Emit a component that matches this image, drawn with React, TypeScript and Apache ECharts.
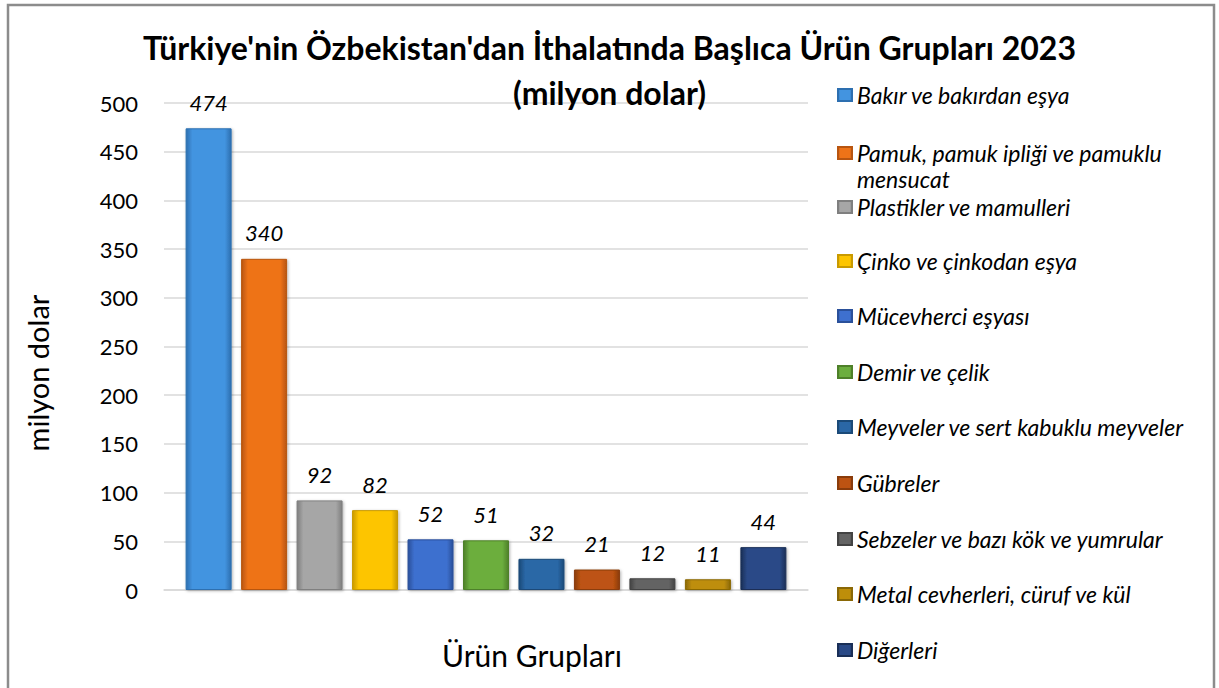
import React, { useEffect, useRef } from 'react';
import * as echarts from 'echarts';

const categories = ['Ürün Grupları'];
const seriesNames = [
  'Bakır ve bakırdan eşya',
  'Pamuk, pamuk ipliği ve pamuklu mensucat',
  'Plastikler ve mamulleri',
  'Çinko ve çinkodan eşya',
  'Mücevherci eşyası',
  'Demir ve çelik',
  'Meyveler ve sert kabuklu meyveler',
  'Gübreler',
  'Sebzeler ve bazı kök ve yumrular',
  'Metal cevherleri, cüruf ve kül',
  'Diğerleri',
];
// legend lines (the second item wraps onto two lines)
const legendLines = [
  ['Bakır ve bakırdan eşya'],
  ['Pamuk, pamuk ipliği ve pamuklu', 'mensucat'],
  ['Plastikler ve mamulleri'],
  ['Çinko ve çinkodan eşya'],
  ['Mücevherci eşyası'],
  ['Demir ve çelik'],
  ['Meyveler ve sert kabuklu meyveler'],
  ['Gübreler'],
  ['Sebzeler ve bazı kök ve yumrular'],
  ['Metal cevherleri, cüruf ve kül'],
  ['Diğerleri'],
];
const values = [474, 340, 92, 82, 52, 51, 32, 21, 12, 11, 44];
const mainColors = ['#4394E0', '#EE7318', '#A6A6A6', '#FDC500', '#3E70CF', '#6CAE3E', '#2A67A6', '#BD5312', '#646464', '#BE8E0A', '#2A4A87'];
const edgeColors = ['#2D6FB0', '#B85510', '#7F7F7F', '#C99A00', '#2A509A', '#4E8029', '#1B4A78', '#8A3C0B', '#434343', '#8A6806', '#1A2F57'];
const yMin = 0;
const yMax = 500;
const yInterval = 50;
const legendCenters = [95, 153, 207, 261, 316, 372, 427, 483, 539, 594, 650];

const FONT = 'Lato';

export default function App() {
  const ref = useRef<HTMLDivElement>(null);
  useEffect(() => {
    if (!ref.current) return;
    const chart = echarts.init(ref.current, undefined, { renderer: 'svg' });
    const barColor = (i: number) =>
      new echarts.graphic.LinearGradient(0, 0, 1, 0, [
        { offset: 0, color: edgeColors[i] },
        { offset: 0.14, color: mainColors[i] },
        { offset: 0.5, color: mainColors[i] },
        { offset: 0.86, color: mainColors[i] },
        { offset: 1, color: edgeColors[i] },
      ]);
    const series = seriesNames.map((name, i) => ({
      name,
      type: 'bar',
      data: [values[i]],
      barWidth: 46,
      barGap: '20.6%',
      itemStyle: {
        color: barColor(i),
        borderColor: edgeColors[i],
        borderWidth: 1,
        shadowBlur: 3,
        shadowColor: 'rgba(0,0,0,0.3)',
        shadowOffsetX: 1,
        shadowOffsetY: 1,
      },
      label: {
        show: true,
        position: 'top',
        distance: 15,
        formatter: '{c}',
        fontFamily: FONT,
        fontStyle: 'italic',
        fontSize: 22,
        color: '#000',
      },
    }));
    const legendTextStyle = {
      fontFamily: FONT,
      fontStyle: 'italic',
      fontSize: 23,
      color: '#000',
      lineHeight: 26,
    };
    const legends = seriesNames.map((name, i) => ({
      data: [name],
      left: 837,
      top: legendCenters[i] - 13,
      padding: 0,
      itemWidth: 14,
      itemHeight: 12,
      icon: 'rect',
      selectedMode: false,
      formatter: () => legendLines[i][0],
      textStyle: legendTextStyle,
    }));
    const extraLegendLines: any[] = [];
    legendLines.forEach((lines, i) => {
      lines.slice(1).forEach((line, k) => {
        extraLegendLines.push({
          type: 'text',
          x: 857,
          y: legendCenters[i] + 26 * (k + 1),
          style: {
            text: line,
            fontFamily: FONT,
            fontStyle: 'italic',
            fontSize: 23,
            fill: '#000',
            align: 'left',
            verticalAlign: 'middle',
          },
        });
      });
    });
    chart.setOption({
      animation: false,
      backgroundColor: '#fff',
      title: {
        text: "Türkiye'nin Özbekistan'dan İthalatında Başlıca Ürün Grupları 2023\n(milyon dolar)",
        left: 'center',
        top: 25,
        padding: [0, 0, 0, 9],
        textStyle: {
          fontFamily: FONT,
          fontWeight: 'bold',
          fontSize: 32,
          lineHeight: 45,
          color: '#000',
        },
      },
      legend: legends,
      grid: { left: 164, right: 411, top: 103, bottom: 98, containLabel: false },
      xAxis: {
        type: 'category',
        data: categories,
        axisLabel: { show: false },
        axisTick: { show: false },
        axisLine: { lineStyle: { color: '#D9D9D9', width: 1.5 } },
      },
      yAxis: {
        type: 'value',
        min: yMin,
        max: yMax,
        interval: yInterval,
        axisLine: { show: false },
        axisTick: { show: false },
        axisLabel: { fontFamily: FONT, fontSize: 22, color: '#000', margin: 26 },
        splitLine: { lineStyle: { color: '#D9D9D9', width: 1.5 } },
      },
      series,
      graphic: [
        {
          type: 'rect',
          shape: { x: 8, y: 5, width: 1206, height: 700 },
          style: { fill: 'none', stroke: '#8C8C8C', lineWidth: 2.5 },
          silent: true,
        },
        {
          type: 'text',
          x: 37,
          y: 373,
          rotation: Math.PI / 2,
          style: {
            text: 'milyon dolar',
            fontFamily: FONT,
            fontSize: 29,
            fill: '#000',
            align: 'center',
            verticalAlign: 'middle',
          },
        },
        {
          type: 'text',
          x: 532,
          y: 655,
          style: {
            text: 'Ürün Grupları',
            fontFamily: FONT,
            fontSize: 30,
            fill: '#000',
            align: 'center',
            verticalAlign: 'middle',
          },
        },
        ...extraLegendLines,
      ],
    });
    return () => chart.dispose();
  }, []);
  return (
    <div
      ref={ref}
      style={{ position: 'absolute', left: 0, top: 0, width: 1219, height: 688, background: '#fff' }}
    />
  );
}
